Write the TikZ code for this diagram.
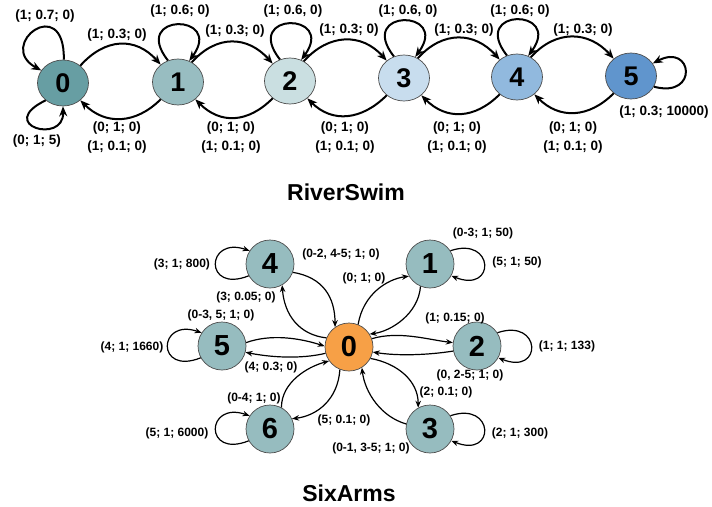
\documentclass[tikz,border=0pt]{standalone}
\usepackage{fontspec}
\setmainfont{Liberation Sans}
\usetikzlibrary{arrows.meta,shapes.geometric}
\definecolor{rc0}{RGB}{103,158,163}
\definecolor{rc1}{RGB}{152,189,193}
\definecolor{rc2}{RGB}{202,223,225}
\definecolor{rc3}{RGB}{200,221,238}
\definecolor{rc4}{RGB}{145,185,222}
\definecolor{rc5}{RGB}{96,149,205}
\definecolor{sgray}{RGB}{150,188,191}
\definecolor{sorange}{RGB}{247,160,70}
\begin{document}
\begin{tikzpicture}[x=1pt,y=-1pt,
  rnode/.style={ellipse,draw=black!70,line width=0.7pt,minimum width=51pt,minimum height=46pt,inner sep=0pt,font=\bfseries\fontsize{27}{27}\selectfont},
  snode/.style={circle,draw=black!70,line width=0.7pt,minimum size=48pt,inner sep=0pt,fill=sgray,font=\bfseries\fontsize{29}{29}\selectfont},
  rlab/.style={font=\bfseries\fontsize{13.5}{19}\selectfont,inner sep=0pt,align=center},
  slab/.style={font=\bfseries\fontsize{12}{13}\selectfont,inner sep=0pt},
  redge/.style={line width=2pt,-{Stealth[length=10pt,width=8pt]}},
  sedge/.style={line width=1.2pt,-{Stealth[length=7pt,width=5.5pt]}},
  ttl/.style={font=\bfseries\fontsize{23}{23}\selectfont,inner sep=0pt}
]
\useasboundingbox (0,0) rectangle (712,506);
% ---------------- RiverSwim ----------------
\node[rnode,fill=rc0] (r0) at (63,83) {0};
\node[rnode,fill=rc1] (r1) at (178,82) {1};
\node[rnode,fill=rc2] (r2) at (290,81) {2};
\node[rnode,fill=rc3] (r3) at (404,78) {3};
\node[rnode,fill=rc4] (r4) at (517,77) {4};
\node[rnode,fill=rc5] (r5) at (631,76) {5};
% self loops
\draw[redge] (r0.88) .. controls (65,-8) and (-5,45) .. (r0.150);
\draw[redge] (r0.225) .. controls (-5,125) and (64,145) .. (r0.270);
\foreach \n in {r1,r2,r3,r4}{
  \draw[redge] (\n.115) .. controls +(-38,-48) and +(35,-48) .. (\n.62);
}
\draw[redge] (r5.-25) .. controls +(45,12) and +(40,-21) .. (r5.30);
% forward arcs
\draw[redge] (r0.45) .. controls +(25,-28) and +(-25,-28) .. (r1.135);
\draw[redge] (r1.55) .. controls +(25,-28) and +(-25,-28) .. (r2.135);
\draw[redge] (r2.55) .. controls +(25,-28) and +(-25,-28) .. (r3.135);
\draw[redge] (r3.55) .. controls +(25,-28) and +(-25,-28) .. (r4.135);
\draw[redge] (r4.55) .. controls +(25,-28) and +(-25,-28) .. (r5.135);
% backward arcs
\draw[redge] (r1.225) .. controls +(-25,25) and +(25,25) .. (r0.-45);
\draw[redge] (r2.225) .. controls +(-25,25) and +(25,25) .. (r1.-45);
\draw[redge] (r3.225) .. controls +(-25,25) and +(25,25) .. (r2.-45);
\draw[redge] (r4.225) .. controls +(-25,25) and +(25,25) .. (r3.-45);
\draw[redge] (r5.225) .. controls +(-25,25) and +(25,25) .. (r4.-45);
% labels
\node[rlab] (lr00a) at (45,16) {(1; 0.7; 0)};
\node[rlab] (lr00b) at (37,141) {(0; 1; 5)};
\node[rlab] (lr01) at (117,35) {(1; 0.3; 0)};
\node[rlab] (lr11) at (180,11) {(1; 0.6; 0)};
\node[rlab] (lr12) at (235,31) {(1; 0.3; 0)};
\node[rlab] (lr22) at (293,11) {(1; 0.6, 0)};
\node[rlab] (lr23) at (349,30) {(1; 0.3; 0)};
\node[rlab] (lr33) at (408,11) {(1; 0.6, 0)};
\node[rlab] (lr34) at (464,30) {(1; 0.3; 0)};
\node[rlab] (lr44) at (520,11) {(1; 0.6; 0)};
\node[rlab] (lr45) at (583,30) {(1; 0.3; 0)};
\node[rlab] (lr55) at (664,112) {(1; 0.3; 10000)};
\node[rlab] (lr10) at (117,137.5) {(0; 1; 0)\\(1; 0.1; 0)};
\node[rlab] (lr21) at (231,137.5) {(0; 1; 0)\\(1; 0.1; 0)};
\node[rlab] (lr32) at (345,137.5) {(0; 1; 0)\\(1; 0.1; 0)};
\node[rlab] (lr43) at (457,137.5) {(0; 1; 0)\\(1; 0.1; 0)};
\node[rlab] (lr54) at (573,137.5) {(0; 1; 0)\\(1; 0.1; 0)};
\node[ttl] (t1) at (346,192) {RiverSwim};
% ---------------- SixArms ----------------
\node[snode,fill=sorange] (s0) at (349,347) {0};
\node[snode] (s1) at (430,264) {1};
\node[snode] (s2) at (477,346) {2};
\node[snode] (s3) at (430,429) {3};
\node[snode] (s4) at (270,264) {4};
\node[snode] (s5) at (222,346) {5};
\node[snode] (s6) at (270,429) {6};
% self loops (left)
\foreach \n in {s4,s5,s6}{
  \draw[sedge] (\n.209) .. controls +(-45,18) and +(-44,-15) .. (\n.147);
}
% self loops (right)
\foreach \n in {s1,s2,s3}{
  \draw[sedge] (\n.33) .. controls +(44,-15) and +(45,18) .. (\n.-29);
}
% edges
\draw[sedge] (s4.-20) .. controls +(30,5) and +(0,-30) .. (s0.125);
\draw[sedge] (s0.158) .. controls +(-27,-3) and +(2,30) .. (s4.-60);
\draw[sedge] (s5.8) .. controls +(25,-9) and +(-25,-8) .. (s0.178);
\draw[sedge] (s0.195) .. controls +(-25,6) and +(25,5) .. (s5.-15);
\draw[sedge] (s6.62) .. controls +(0,-25) and +(-22,6) .. (s0.215);
\draw[sedge] (s0.-112) .. controls +(-2,30) and +(25,-3) .. (s6.25);
\draw[sedge] (s0.68) .. controls +(5,-30) and +(-22,3) .. (s1.210);
\draw[sedge] (s1.-113) .. controls +(-2,27) and +(22,-3) .. (s0.32);
\draw[sedge] (s0.20) .. controls +(27,-8) and +(-25,-3) .. (s2.172);
\draw[sedge] (s2.192) .. controls +(-25,4) and +(25,4) .. (s0.-12);
\draw[sedge] (s0.-28) .. controls +(27,5) and +(0,-27) .. (s3.119);
\draw[sedge] (s3.168) .. controls +(-25,-7) and +(3,25) .. (s0.-58);
% labels
\node[slab] (ls44) at (182,264) {(3; 1; 800)};
\node[slab] (ls40) at (341,254) {(0-2, 4-5; 1; 0)};
\node[slab] (ls04) at (246,297) {(3; 0.05; 0)};
\node[slab] (ls01) at (364,278) {(0; 1; 0)};
\node[slab] (ls11a) at (483,233) {(0-3; 1; 50)};
\node[slab] (ls11b) at (517,262) {(5; 1; 50)};
\node[slab] (ls50) at (221,315) {(0-3, 5; 1; 0)};
\node[slab] (ls55) at (132,347) {(4; 1; 1660)};
\node[slab] (ls05) at (271,367) {(4; 0.3; 0)};
\node[slab] (ls02) at (455,318) {(1; 0.15; 0)};
\node[slab] (ls22) at (567,346) {(1; 1; 133)};
\node[slab] (ls20) at (470,375) {(0, 2-5; 1; 0)};
\node[slab] (ls60) at (254,398) {(0-4; 1; 0)};
\node[slab] (ls06) at (344,420) {(5; 0.1; 0)};
\node[slab] (ls03) at (446,392) {(2; 0.1; 0)};
\node[slab] (ls66) at (177,433) {(5; 1; 6000)};
\node[slab] (ls33) at (520,433) {(2; 1; 300)};
\node[slab] (ls30) at (371,448) {(0-1, 3-5; 1; 0)};
\node[ttl] (t2) at (349,493) {SixArms};
\end{tikzpicture}
\end{document}
